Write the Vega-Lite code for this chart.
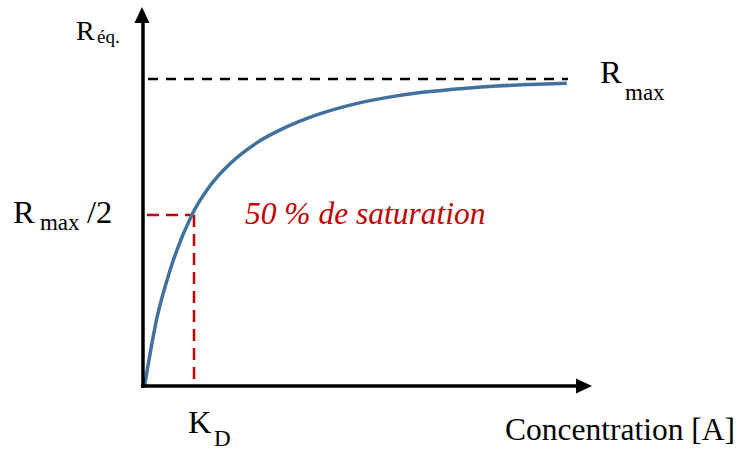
{
  "$schema": "https://vega.github.io/schema/vega-lite/v6.json",
  "width": 738,
  "height": 450,
  "padding": 0,
  "autosize": {"type": "none"},
  "background": "white",
  "config": {"view": {"stroke": null}, "text": {"font": "Liberation Serif, Times New Roman, Tinos, DejaVu Serif, serif"}},
  "encoding": {
    "x": {"field": "x", "type": "quantitative", "scale": {"domain": [-2.8039, 11.6667], "nice": false, "zero": false}, "axis": null},
    "y": {"field": "y", "type": "quantitative", "scale": {"domain": [-0.20847, 1.25733], "nice": false, "zero": false}, "axis": null}
  },
  "layer": [
    {
      "data": {"values": [{"x": 0.098, "x2": 8.333, "y": 1.0}]},
      "mark": {"type": "rule", "color": "black", "strokeWidth": 2.5, "strokeDash": [10, 8]},
      "encoding": {"x2": {"field": "x2"}}
    },
    {
      "data": {"values": [{"x": 0.078, "x2": 1.0, "y": 0.557}]},
      "mark": {"type": "rule", "color": "#C00000", "strokeWidth": 2.5, "strokeDash": [12, 7]},
      "encoding": {"x2": {"field": "x2"}}
    },
    {
      "data": {"values": [{"x": 1.0, "y": 0.557, "y2": 0.0}]},
      "mark": {"type": "rule", "color": "#C00000", "strokeWidth": 2.5, "strokeDash": [12, 7]},
      "encoding": {"y2": {"field": "y2"}}
    },
    {
      "data": {"values": [
        {"x": 0.03, "y": 0.0},
        {"x": 0.269, "y": 0.219},
        {"x": 0.529, "y": 0.376},
        {"x": 0.955, "y": 0.556},
        {"x": 1.314, "y": 0.652},
        {"x": 1.706, "y": 0.724},
        {"x": 2.229, "y": 0.792},
        {"x": 2.751, "y": 0.839},
        {"x": 3.406, "y": 0.883},
        {"x": 4.059, "y": 0.915},
        {"x": 4.975, "y": 0.945},
        {"x": 5.627, "y": 0.959},
        {"x": 6.275, "y": 0.969},
        {"x": 6.935, "y": 0.977},
        {"x": 7.588, "y": 0.982},
        {"x": 8.308, "y": 0.986}
      ]},
      "mark": {"type": "line", "color": "#41719C", "strokeWidth": 3.5, "interpolate": "monotone"},
      "encoding": {}
    },
    {
      "data": {"values": [{"x": 0.0, "y": -0.006, "y2": 1.185}]},
      "mark": {"type": "rule", "color": "black", "strokeWidth": 3.5},
      "encoding": {"y2": {"field": "y2"}}
    },
    {
      "data": {"values": [{"x": -0.04, "x2": 8.5, "y": 0.0}]},
      "mark": {"type": "rule", "color": "black", "strokeWidth": 3.5},
      "encoding": {"x2": {"field": "x2"}}
    },
    {
      "data": {"values": [{"x": -0.02, "y": 1.2085}]},
      "mark": {"type": "point", "shape": "M0,-1L0.94,1L-0.94,1Z", "size": 256, "filled": true, "color": "black", "opacity": 1}
    },
    {
      "data": {"values": [{"x": 8.647, "y": 0.0}]},
      "mark": {"type": "point", "shape": "M1,0L-1,0.94L-1,-0.94Z", "size": 256, "filled": true, "color": "black", "opacity": 1}
    },
    {
      "data": {"values": [
        {"x": 8.961, "y": 0.987, "label": "R"},
        {"x": -2.549, "y": 0.531, "label": "R"},
        {"x": -1.098, "y": 0.531, "label": "/2"},
        {"x": 0.882, "y": -0.153, "label": "K"}
      ]},
      "mark": {"type": "text", "fontSize": 32.5, "align": "left", "baseline": "alphabetic", "color": "black"},
      "encoding": {"text": {"field": "label"}}
    },
    {
      "data": {"values": [
        {"x": 9.451, "y": 0.932, "label": "max"},
        {"x": -2.02, "y": 0.508, "label": "max"},
        {"x": 1.392, "y": -0.1954, "label": "D"}
      ]},
      "mark": {"type": "text", "fontSize": 23, "align": "left", "baseline": "alphabetic", "color": "black"},
      "encoding": {"text": {"field": "label"}}
    },
    {
      "data": {"values": [{"x": -1.314, "y": 1.127, "label": "R"}]},
      "mark": {"type": "text", "fontSize": 28, "align": "left", "baseline": "alphabetic", "color": "black"},
      "encoding": {"text": {"field": "label"}}
    },
    {
      "data": {"values": [{"x": -0.902, "y": 1.117, "label": "éq."}]},
      "mark": {"type": "text", "fontSize": 19, "align": "left", "baseline": "alphabetic", "color": "black"},
      "encoding": {"text": {"field": "label"}}
    },
    {
      "data": {"values": [{"x": 7.098, "y": -0.176, "label": "Concentration [A]"}]},
      "mark": {"type": "text", "fontSize": 31.5, "align": "left", "baseline": "alphabetic", "color": "black"},
      "encoding": {"text": {"field": "label"}}
    },
    {
      "data": {"values": [{"x": 2.0, "y": 0.528, "label": "50 % de saturation"}]},
      "mark": {"type": "text", "fontSize": 31.5, "fontStyle": "italic", "align": "left", "baseline": "alphabetic", "color": "#C00000"},
      "encoding": {"text": {"field": "label"}}
    }
  ]
}
